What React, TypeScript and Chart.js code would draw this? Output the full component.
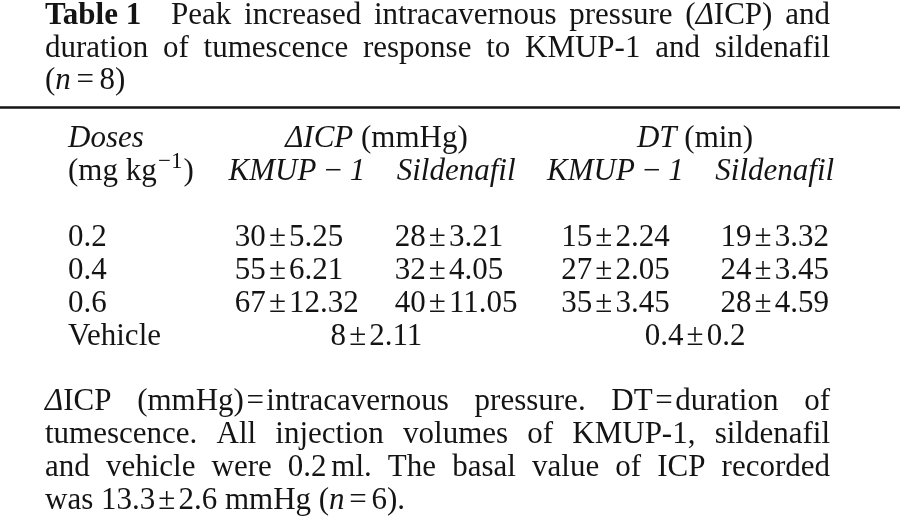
import React, { useEffect, useRef } from 'react';
import { Chart, registerables } from 'chart.js';

Chart.register(...registerables);

// ---------------- data ----------------
const doseLabels = ['0.2', '0.4', '0.6'];
const vehicleLabel = 'Vehicle';
const icpKmupMean = [30, 55, 67];
const icpKmupSem = [5.25, 6.21, 12.32];
const icpSildMean = [28, 32, 40];
const icpSildSem = [3.21, 4.05, 11.05];
const dtKmupMean = [15, 27, 35];
const dtKmupSem = [2.24, 2.05, 3.45];
const dtSildMean = [19, 24, 28];
const dtSildSem = [3.32, 3.45, 4.59];
const vehicleIcp = [8, 2.11];
const vehicleDt = [0.4, 0.2];
const nAnimals = 8;
const basalIcp = [13.3, 2.6];
const nBasal = 6;

// ---------------- layout (in column / line units) ----------------
const FONT = '"Liberation Serif", "Times New Roman", serif';
const SIZE = 31;
const INK = '#141414';
const DOSE_COL = -0.436;
const TITLE_ROWS = [-6.74, -5.74, -4.76];
const RULE_ROW = -4.2;
const HEAD_ROWS = [-3, -2];
const FOOT_ROWS = [4.97, 5.97, 6.97, 7.97];

type Run = { t?: string; s?: string; g?: number };

function fontFor(s: string | undefined, size: number) {
  const sz = s === 'sup' ? size * 0.74 : size;
  const st = s === 'i' ? 'italic ' : s === 'b' ? 'bold ' : '';
  return `${st}${sz}px ${FONT}`;
}

function runsWidth(ctx: CanvasRenderingContext2D, runs: Run[], size: number) {
  let w = 0;
  for (const r of runs) {
    if (r.g !== undefined) w += r.g * size;
    else {
      ctx.font = fontFor(r.s, size);
      w += ctx.measureText(r.t || '').width;
    }
  }
  return w;
}

function drawRuns(ctx: CanvasRenderingContext2D, runs: Run[], x: number, y: number, size: number) {
  let cx = x;
  for (const r of runs) {
    if (r.g !== undefined) {
      cx += r.g * size;
      continue;
    }
    ctx.font = fontFor(r.s, size);
    ctx.textAlign = 'left';
    ctx.textBaseline = 'alphabetic';
    const yy = r.s === 'sup' ? y - size * 0.4 : y;
    ctx.fillText(r.t || '', cx, yy);
    cx += ctx.measureText(r.t || '').width;
  }
  return cx - x;
}

function drawJustified(ctx: CanvasRenderingContext2D, words: Run[][], x0: number, x1: number, y: number, size: number) {
  const widths = words.map((w) => runsWidth(ctx, w, size));
  const total = widths.reduce((a, b) => a + b, 0);
  const gap = words.length > 1 ? (x1 - x0 - total) / (words.length - 1) : 0;
  let x = x0;
  words.forEach((w, i) => {
    drawRuns(ctx, w, x, y, size);
    x += widths[i] + gap;
  });
}

const pm = (a: number, b: number): Run[] => [{ t: String(a) }, { g: 0.1 }, { t: '±' }, { g: 0.1 }, { t: String(b) }];
const w = (t: string, s?: string): Run[] => [{ t, s }];

const titleLine1: Run[][] = [
  [{ t: 'Table 1', s: 'b' }, { g: 0.55 }],
  w('Peak'), w('increased'), w('intracavernous'), w('pressure'),
  [{ t: '(' }, { t: 'Δ', s: 'i' }, { t: 'ICP)' }],
  w('and'),
];
const titleLine2: Run[][] = ['duration', 'of', 'tumescence', 'response', 'to', 'KMUP-1', 'and', 'sildenafil'].map((t) => w(t));
const titleLine3: Run[] = [{ t: '(' }, { t: 'n', s: 'i' }, { g: 0.18 }, { t: '=' }, { g: 0.18 }, { t: `${nAnimals})` }];

const footLine1: Run[][] = [
  [{ t: 'Δ', s: 'i' }, { t: 'ICP' }],
  [{ t: '(mmHg)' }, { g: 0.08 }, { t: '=' }, { g: 0.08 }, { t: 'intracavernous' }],
  w('pressure.'),
  [{ t: 'DT' }, { g: 0.08 }, { t: '=' }, { g: 0.08 }, { t: 'duration' }],
  w('of'),
];
const footLine2: Run[][] = ['tumescence.', 'All', 'injection', 'volumes', 'of', 'KMUP-1,', 'sildenafil'].map((t) => w(t));
const footLine3: Run[][] = [
  w('and'), w('vehicle'), w('were'),
  [{ t: '0.2' }, { g: 0.15 }, { t: 'ml.' }],
  w('The'), w('basal'), w('value'), w('of'), w('ICP'), w('recorded'),
];
const footLine4: Run[] = [
  { t: 'was ' }, ...pm(basalIcp[0], basalIcp[1]), { t: ' mmHg (' }, { t: 'n', s: 'i' },
  { g: 0.15 }, { t: '=' }, { g: 0.15 }, { t: `${nBasal}).` },
];

const kmupHead: Run[] = [{ t: 'KMUP', s: 'i' }, { g: 0.2 }, { t: '−', s: 'i' }, { g: 0.2 }, { t: '1', s: 'i' }];
const sildHead: Run[] = [{ t: 'Sildenafil', s: 'i' }];

const tablePlugin = {
  id: 'tableText',
  afterDraw(chart: any) {
    const ctx: CanvasRenderingContext2D = chart.ctx;
    const xs = chart.scales.x;
    const ys = chart.scales.y;
    const area = chart.chartArea;
    ctx.save();
    ctx.fillStyle = INK;
    ctx.strokeStyle = INK;

    // title
    drawJustified(ctx, titleLine1, area.left, area.right, ys.getPixelForValue(TITLE_ROWS[0]), SIZE);
    drawJustified(ctx, titleLine2, area.left, area.right, ys.getPixelForValue(TITLE_ROWS[1]), SIZE);
    drawRuns(ctx, titleLine3, area.left, ys.getPixelForValue(TITLE_ROWS[2]), SIZE);

    // rule
    ctx.lineWidth = 2.5;
    ctx.beginPath();
    const ry = ys.getPixelForValue(RULE_ROW);
    ctx.moveTo(0, ry);
    ctx.lineTo(chart.width, ry);
    ctx.stroke();

    // headers
    const doseX = xs.getPixelForValue(DOSE_COL);
    const h0 = ys.getPixelForValue(HEAD_ROWS[0]);
    const h1 = ys.getPixelForValue(HEAD_ROWS[1]);
    drawRuns(ctx, [{ t: 'Doses', s: 'i' }], doseX, h0, SIZE);
    const g1: Run[] = [{ t: 'ΔICP', s: 'i' }, { t: ' (mmHg)' }];
    const g2: Run[] = [{ t: 'DT', s: 'i' }, { t: ' (min)' }];
    [[g1, 1.5], [g2, 3.5]].forEach(([r, c]: any) => {
      const cx = xs.getPixelForValue(c);
      drawRuns(ctx, r, cx - runsWidth(ctx, r, SIZE) / 2, h0, SIZE);
    });
    drawRuns(ctx, [{ t: '(mg kg' }, { g: 0.04 }, { t: '−1', s: 'sup' }, { g: 0.04 }, { t: ')' }], doseX, h1, SIZE);
    [[kmupHead, 1], [sildHead, 2], [kmupHead, 3], [sildHead, 4]].forEach(([r, c]: any) => {
      const cx = xs.getPixelForValue(c);
      drawRuns(ctx, r, cx - runsWidth(ctx, r, SIZE) / 2, h1, SIZE);
    });

    // cells from dataset elements
    chart.data.datasets.forEach((ds: any, di: number) => {
      const meta = chart.getDatasetMeta(di);
      const cells: Run[][] = ds.cells;
      const widths = cells.map((c) => runsWidth(ctx, c, SIZE));
      const maxW = Math.max(...widths);
      meta.data.forEach((el: any, i: number) => {
        const runs = cells[i];
        let x = el.x;
        if (ds.align === 'center') x = el.x - widths[i] / 2;
        else if (ds.align === 'block') x = el.x - maxW / 2;
        drawRuns(ctx, runs, x, el.y, SIZE);
      });
    });

    // footnote
    drawJustified(ctx, footLine1, area.left, area.right, ys.getPixelForValue(FOOT_ROWS[0]), SIZE);
    drawJustified(ctx, footLine2, area.left, area.right, ys.getPixelForValue(FOOT_ROWS[1]), SIZE);
    drawJustified(ctx, footLine3, area.left, area.right, ys.getPixelForValue(FOOT_ROWS[2]), SIZE);
    drawRuns(ctx, footLine4, area.left, ys.getPixelForValue(FOOT_ROWS[3]), SIZE);

    ctx.restore();
  },
};

function valueColumn(label: string, col: number, means: number[], sems: number[]) {
  return {
    label,
    data: means.map((_, i) => ({ x: col, y: i })),
    cells: means.map((m, i) => pm(m, sems[i])),
    align: 'block',
    pointRadius: 0,
    pointHoverRadius: 0,
    showLine: false,
  };
}

export default function App() {
  const ref = useRef<HTMLCanvasElement | null>(null);
  useEffect(() => {
    document.body.style.margin = '0';
    if (!ref.current) return;
    const rowsAll = [...doseLabels, vehicleLabel];
    const chart = new Chart(ref.current, {
      type: 'scatter',
      data: {
        datasets: [
          {
            label: 'Doses',
            data: rowsAll.map((_, i) => ({ x: DOSE_COL, y: i })),
            cells: rowsAll.map((d) => [{ t: d }]),
            align: 'left',
            pointRadius: 0,
            pointHoverRadius: 0,
          } as any,
          valueColumn('ΔICP KMUP-1', 1, icpKmupMean, icpKmupSem) as any,
          valueColumn('ΔICP Sildenafil', 2, icpSildMean, icpSildSem) as any,
          valueColumn('DT KMUP-1', 3, dtKmupMean, dtKmupSem) as any,
          valueColumn('DT Sildenafil', 4, dtSildMean, dtSildSem) as any,
          {
            label: 'Vehicle',
            data: [{ x: 1.5, y: 3 }, { x: 3.5, y: 3 }],
            cells: [pm(vehicleIcp[0], vehicleIcp[1]), pm(vehicleDt[0], vehicleDt[1])],
            align: 'center',
            pointRadius: 0,
            pointHoverRadius: 0,
          } as any,
        ],
      },
      options: {
        animation: false,
        responsive: true,
        maintainAspectRatio: false,
        events: [],
        layout: { padding: { left: 45, right: 70, top: 0, bottom: 0 } },
        plugins: { legend: { display: false }, tooltip: { enabled: false }, title: { display: false } },
        scales: {
          x: { type: 'linear', display: false, min: -0.5807, max: 4.347 },
          y: { type: 'linear', display: false, reverse: true, min: -246 / 33, max: (518 - 246) / 33 },
        },
      },
      plugins: [tablePlugin],
    });
    return () => chart.destroy();
  }, []);
  return (
    <div style={{ width: 900, height: 518, position: 'relative', background: '#fff' }}>
      <canvas ref={ref} />
    </div>
  );
}
